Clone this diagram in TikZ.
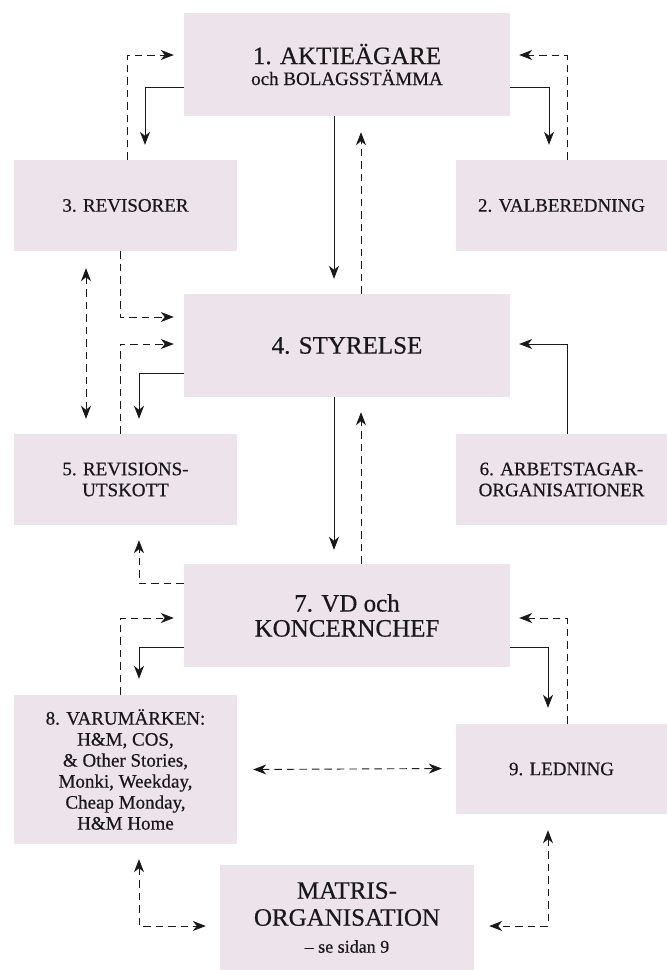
\documentclass[tikz,border=0pt]{standalone}
\usepackage{fontspec}
\setmainfont{Liberation Serif}[FakeBold=0.5]
\usetikzlibrary{arrows.meta}
\definecolor{boxfill}{RGB}{237,227,235}
\definecolor{linecol}{RGB}{25,25,25}
\tikzset{
  box/.style={fill=boxfill, draw=none, inner sep=0pt, align=center, text=black!90,
              font=\fontsize{19}{21}\selectfont},
  big/.style={font=\fontsize{25}{25}\selectfont},
  tipx/.tip={Stealth[length=13pt,width=10pt,inset=4pt]},
  sol/.style={draw=linecol, line width=0.9pt, -tipx},
  dsh/.style={draw=linecol, line width=0.9pt, dash pattern=on 7.5pt off 5pt, -tipx},
  ddsh/.style={draw=linecol, line width=0.9pt, dash pattern=on 7.5pt off 5pt, tipx-tipx},
}
\begin{document}
\begin{tikzpicture}[x=1pt,y=-1pt]
\useasboundingbox (0,0) rectangle (667,970);
% boxes
\node[box, minimum width=326pt, minimum height=103pt] (b1) at (347,64.5)
  {{\fontsize{25}{25}\selectfont 1. AKTIEÄGARE}\\och BOLAGSSTÄMMA};
\node[box, minimum width=223pt, minimum height=91pt] (b3) at (125.5,205.5) {3. REVISORER};
\node[box, minimum width=211pt, minimum height=91pt] (b2) at (561.5,205.5) {2. VALBEREDNING};
\node[box, big, minimum width=326pt, minimum height=103pt] (b4) at (347,345.5) {4. STYRELSE};
\node[box, minimum width=223pt, minimum height=91pt] (b5) at (125.5,479.5) {5. REVISIONS-\\UTSKOTT};
\node[box, minimum width=211pt, minimum height=91pt] (b6) at (561.5,479.5) {6. ARBETSTAGAR-\\ORGANISATIONER};
\node[box, big, minimum width=326pt, minimum height=103pt] (b7) at (347,615.5) {7. VD och\\KONCERNCHEF};
\node[box, minimum width=223pt, minimum height=149pt] (b8) at (125.5,769.5)
  {8. VARUMÄRKEN:\\H\&M, COS,\\\& Other Stories,\\Monki, Weekday,\\Cheap Monday,\\H\&M Home};
\node[box, minimum width=211pt, minimum height=90pt] (b9) at (561.5,769) {9. LEDNING};
\node[box, font=\fontsize{25}{27}\selectfont, minimum width=254pt, minimum height=105pt] (bm) at (347,917.5)
  {MATRIS-\\ORGANISATION\\\fontsize{18}{21}\selectfont – se sidan 9};
% connectors
\draw[sol] ([yshift=-22.5pt]b1.west) -| ([xshift=19.5pt,yshift=15pt]b3.north);
\draw[dsh] ([xshift=1.5pt]b3.north) |- ([xshift=-10pt,yshift=9.5pt]b1.west);
\draw[sol] ([yshift=-22.5pt]b1.east) -| ([xshift=-12.5pt,yshift=15pt]b2.north);
\draw[dsh] ([xshift=5.5pt]b2.north) |- ([xshift=9pt,yshift=9.5pt]b1.east);
\draw[sol] ([xshift=-13pt]b1.south) -- ([xshift=-13pt,yshift=15pt]b4.north);
\draw[dsh] ([xshift=14pt]b4.north) -- ([xshift=14pt,yshift=-16pt]b1.south);
\draw[dsh] ([xshift=-5.5pt]b3.south) |- ([xshift=-10pt,yshift=28.5pt]b4.west);
\draw[ddsh] ([xshift=-39.5pt,yshift=-17pt]b3.south) -- ([xshift=-39.5pt,yshift=15pt]b5.north);
\draw[dsh] ([xshift=-5.5pt]b5.north) |- ([xshift=-10pt,yshift=1.5pt]b4.west);
\draw[sol] ([yshift=-27.5pt]b4.west) -| ([xshift=13.5pt,yshift=15pt]b5.north);
\draw[sol] ([xshift=5.5pt]b6.north) |- ([xshift=9pt,yshift=1.5pt]b4.east);
\draw[sol] ([xshift=-13pt]b4.south) -- ([xshift=-13pt,yshift=14pt]b7.north);
\draw[dsh] ([xshift=14pt]b7.north) -- ([xshift=14pt,yshift=-15pt]b4.south);
\draw[dsh] ([yshift=32.5pt]b7.west) -| ([xshift=13.5pt,yshift=-15pt]b5.south);
\draw[dsh] ([xshift=-5.5pt]b8.north) |- ([xshift=-10pt,yshift=-2.5pt]b7.west);
\draw[dsh] ([xshift=5.5pt]b9.north) |- ([xshift=9pt,yshift=-2.5pt]b7.east);
\draw[sol] ([yshift=-31.5pt]b7.west) -| ([xshift=13.5pt,yshift=16pt]b8.north);
\draw[sol] ([yshift=-31.5pt]b7.east) -| ([xshift=-13.5pt,yshift=16pt]b9.north);
\draw[ddsh] ([xshift=16pt]b8.east) -- ([xshift=-14pt,yshift=0.5pt]b9.west);
\draw[ddsh] ([xshift=13.5pt,yshift=-15pt]b8.south) |- ([xshift=-14pt,yshift=-8.5pt]bm.west);
\draw[ddsh] ([xshift=-13.5pt,yshift=-16pt]b9.south) |- ([xshift=15pt,yshift=-8.5pt]bm.east);
\end{tikzpicture}
\end{document}
